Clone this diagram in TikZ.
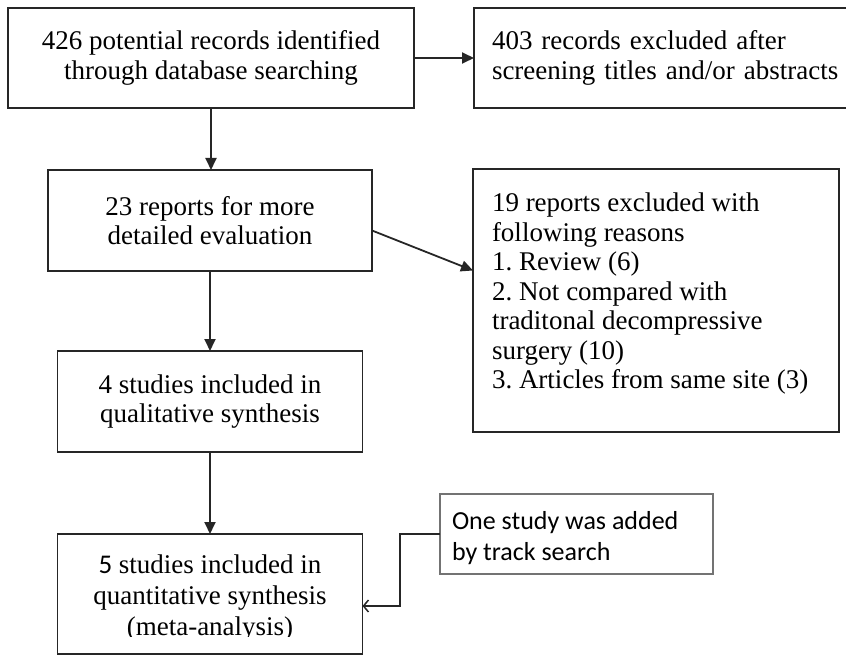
\documentclass[tikz,border=0pt]{standalone}
\usepackage{fontspec}
\setmainfont{Liberation Serif}
\newfontfamily\calfont{Carlito}
\usetikzlibrary{arrows.meta}
\frenchspacing
\begin{document}
\begin{tikzpicture}[x=1pt,y=-1pt,
 box/.style={draw=black!85, line width=1.8pt, rectangle, inner sep=0pt, outer sep=0pt, font=\fontsize{27}{29.5}\selectfont, align=center},
 txt/.style={inner sep=0pt, outer sep=0pt, align=left, font=\fontsize{27}{29.5}\selectfont, anchor=north west},
 note/.style={draw=black!55, line width=1.2pt, rectangle, inner sep=0pt, outer sep=0pt},
 arr/.style={draw=black!85, line width=1.8pt, -{Triangle[length=12pt,width=11pt]}},
 thinarr/.style={draw=black!85, line width=1.5pt, -{Straight Barb[length=5pt,width=12pt]}}]
\useasboundingbox (0,0) rectangle (846,655);
\clip (0,0) rectangle (846,655);
\node[box, minimum width=406pt, minimum height=100pt] (b1) at (211,58) {426 potential records identified\\through database searching};
\node[box, minimum width=396pt, minimum height=100pt, text width=360pt, align=left, inner xsep=18pt] (b2) at (672,58) {403 records excluded after\\screening titles and/or abstracts};
\node[box, minimum width=324pt, minimum height=101pt] (b3) at (210,220.5) {23 reports for more\\detailed evaluation};
\node[box, minimum width=366pt, minimum height=263pt] (b4) at (656,300.5) {};
\node[txt] (b4t) at (492,193) {19 reports excluded with\\following reasons\\1. Review (6)\\2. Not compared with\\traditonal decompressive\\surgery (10)\\3. Articles from same site (3)};
\node[box, minimum width=305pt, minimum height=101pt] (b5) at (210,401.5) {4 studies included in\\qualitative synthesis};
\node[box, minimum width=305pt, minimum height=120pt] (b6) at (210,594) {};
\begin{scope}
\clip (0,0) rectangle (846,636);
\node[inner sep=0pt, outer sep=0pt, align=center, font=\fontsize{27}{31}\selectfont] (b6t) at (210,598) {{\calfont 5} studies included in\\quantitative synthesis\\(meta-analysis)};
\end{scope}
\node[note, minimum width=273pt, minimum height=80pt] (b7) at (576.5,534) {};
\node[txt, font=\calfont\fontsize{26}{31}\selectfont] (b7t) at (452,511) {One study was added\\by track search};
\draw[arr] (b1.east) -- (b2.west);
\draw[arr] (b1.south) -- (b1.south |- b3.north);
\draw[arr] ([yshift=-10pt]b3.east) -- ([yshift=30pt]b4.west);
\draw[arr] (b3.south) -- (b3.south |- b5.north);
\draw[arr] (b5.south) -- (b5.south |- b6.north);
\coordinate (c1) at (400,606);
\draw[thinarr] (b7.west) -| (c1) -- (c1 -| b6.east);
\end{tikzpicture}
\end{document}
